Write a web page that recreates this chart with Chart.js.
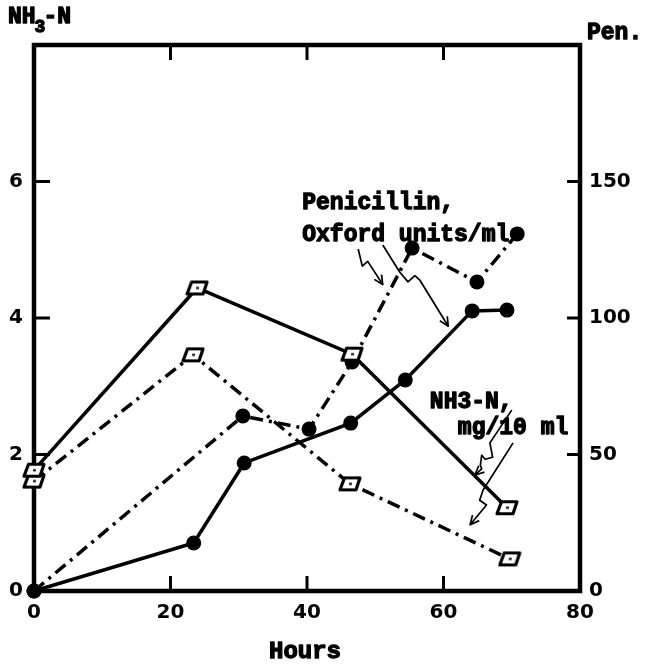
<!DOCTYPE html>
<html>
<head>
<meta charset="utf-8">
<script src="https://cdn.jsdelivr.net/npm/chart.js@4"></script>
<style>
html,body{margin:0;padding:0;background:#fff;}
#wrap{width:645px;height:666px;position:relative;}
</style>
</head>
<body>
<div id="wrap"><canvas id="c" width="645" height="666"></canvas></div>
<script>
// ---- data ----
const hoursNH3Solid = [0, 23.9, 46.6, 69.3];
const nh3Solid      = [1.77, 4.44, 3.47, 1.22];
const hoursNH3Dash  = [0, 23.3, 46.3, 69.7];
const nh3Dash       = [1.61, 3.46, 1.57, 0.47];
const hoursPenSolid = [0, 23.4, 30.8, 46.4, 54.4, 64.2, 69.3];
const penSolid      = [0, 17.6, 46.9, 61.5, 77.3, 102.6, 102.9];
const hoursPenDash  = [0, 30.6, 40.3, 46.6, 55.4, 64.9, 70.8];
const penDash       = [0, 64.1, 59.3, 83.9, 125.6, 113.2, 130.8];
const xTickValues   = [0, 20, 40, 60, 80];
const leftTickValues  = [0, 2, 4, 6];
const rightTickValues = [0, 50, 100, 150];
const leftTitle  = ['NH', '3', '-N'];
const rightTitle = 'Pen.';
const xTitle     = 'Hours';

// annotation texts (hours, NH3-N units)
const notes = [
  {text: 'Penicillin,',     x: 39.3, y: 5.68},
  {text: 'Oxford units/ml', x: 39.3, y: 5.21},
  {text: 'NH3-N,',          x: 58.0, y: 2.76},
  {text: 'mg/10 ml',        x: 62.1, y: 2.39}
];
// hand-drawn squiggly arrows (hours, NH3-N units)
const arrows = [
  [[47.5,5.01],[48.1,4.76],[48.9,4.83],[51.1,4.49]],
  [[51.1,5.07],[53.6,4.67],[54.8,4.53],[55.8,4.62],[56.5,4.56],[60.7,3.88]],
  [[70.0,2.65],[66.8,2.17],[67.2,1.96],[66.1,1.93],[65.6,1.99],[65.4,1.84],[65.6,1.79],[64.6,1.70]],
  [[70.2,2.17],[65.8,1.48],[65.3,1.33],[66.3,1.26],[63.9,0.97]]
];

const xs = (a, b) => a.map((h, i) => ({x: h, y: b[i]}));

function squareMarker() {
  const c = document.createElement('canvas');
  c.width = 24; c.height = 17;
  const g = c.getContext('2d');
  g.beginPath();
  g.moveTo(6.5, 2.5); g.lineTo(22, 2.5); g.lineTo(18, 14.5); g.lineTo(2, 14.5); g.closePath();
  g.fillStyle = '#fff'; g.fill();
  g.lineWidth = 3.2; g.strokeStyle = '#000'; g.lineJoin = 'round'; g.stroke();
  g.fillStyle = '#000'; g.fillRect(11, 7.5, 3, 2);
  return c;
}
const sq = squareMarker();
const DASHDOT = [13, 6, 3, 6];

const framePlugin = {
  id: 'frame',
  beforeDatasetsDraw(chart) {
    const {ctx, chartArea: a, scales} = chart;
    ctx.save();
    ctx.strokeStyle = '#000';
    ctx.lineWidth = 4.5;
    ctx.lineJoin = 'miter';
    ctx.strokeRect(a.left, a.top, a.right - a.left, a.bottom - a.top);
    ctx.lineWidth = 3;
    ctx.beginPath();
    [20, 40, 60].forEach(v => {
      const px = scales.x.getPixelForValue(v);
      ctx.moveTo(px, a.bottom); ctx.lineTo(px, a.bottom - 15);
      ctx.moveTo(px, a.top); ctx.lineTo(px, a.top + 15);
    });
    [2, 4, 6].forEach(v => {
      const py = scales.y.getPixelForValue(v);
      ctx.moveTo(a.left, py); ctx.lineTo(a.left + 16, py);
    });
    [50, 100, 150].forEach(v => {
      const py = scales.y1.getPixelForValue(v);
      ctx.moveTo(a.right, py); ctx.lineTo(a.right - 13, py);
    });
    ctx.stroke();
    ctx.restore();
  },
  afterDatasetsDraw(chart) {
    const {ctx, scales} = chart;
    const X = v => scales.x.getPixelForValue(v);
    const Y = v => scales.y.getPixelForValue(v);
    ctx.save();
    ctx.fillStyle = '#000';
    ctx.strokeStyle = '#000';
    ctx.textBaseline = 'middle';
    const boldText = (t, x, y, size, align) => {
      ctx.font = 'bold ' + size + 'px "Liberation Mono", monospace';
      ctx.textAlign = align || 'left';
      ctx.lineWidth = 1.3;
      ctx.lineJoin = 'round';
      ctx.fillText(t, x, y);
      ctx.strokeText(t, x, y);
    };
    // axis titles
    boldText(leftTitle[0], 8, 17, 23);
    ctx.font = 'bold 23px "Liberation Mono", monospace';
    let w0 = ctx.measureText(leftTitle[0]).width;
    boldText(leftTitle[1], 8 + w0 - 1, 27, 18);
    ctx.font = 'bold 18px "Liberation Mono", monospace';
    let w1 = ctx.measureText(leftTitle[1]).width;
    boldText(leftTitle[2], 8 + w0 + w1 - 3, 17, 23);
    boldText(rightTitle, 587, 33, 23);
    boldText(xTitle, 305, 652, 24, 'center');
    // notes
    notes.forEach(n => boldText(n.text, X(n.x), Y(n.y), 23));
    // arrows
    ctx.lineWidth = 1.7;
    ctx.lineJoin = 'round';
    arrows.forEach(p => {
      ctx.beginPath();
      p.forEach((q, i) => { const px = X(q[0]), py = Y(q[1]); if (i) ctx.lineTo(px, py); else ctx.moveTo(px, py); });
      ctx.stroke();
      const a = p[p.length - 2], b = p[p.length - 1];
      const ax = X(a[0]), ay = Y(a[1]), bx = X(b[0]), by = Y(b[1]);
      const ang = Math.atan2(by - ay, bx - ax);
      ctx.beginPath();
      ctx.moveTo(bx - 10 * Math.cos(ang - 0.45), by - 10 * Math.sin(ang - 0.45));
      ctx.lineTo(bx, by);
      ctx.lineTo(bx - 10 * Math.cos(ang + 0.45), by - 10 * Math.sin(ang + 0.45));
      ctx.stroke();
    });
    ctx.restore();
  }
};

const tickFont = {family: '"DejaVu Sans", sans-serif', size: 20, weight: 'bold'};

new Chart(document.getElementById('c'), {
  type: 'line',
  data: {
    datasets: [
      {data: xs(hoursNH3Solid, nh3Solid), yAxisID: 'y', borderColor: '#000', borderWidth: 3.5,
       pointStyle: sq, pointRadius: 8, clip: false},
      {data: xs(hoursNH3Dash, nh3Dash), yAxisID: 'y', borderColor: '#000', borderWidth: 3.5,
       borderDash: DASHDOT, pointStyle: sq, pointRadius: 8, clip: false},
      {data: xs(hoursPenSolid, penSolid), yAxisID: 'y1', borderColor: '#000', borderWidth: 3.5,
       pointStyle: 'circle', pointRadius: 7.5, pointBackgroundColor: '#000', pointBorderWidth: 0, clip: false},
      {data: xs(hoursPenDash, penDash), yAxisID: 'y1', borderColor: '#000', borderWidth: 3.5,
       borderDash: DASHDOT, pointStyle: 'circle', pointRadius: 7.5, pointBackgroundColor: '#000', pointBorderWidth: 0, clip: false}
    ]
  },
  options: {
    responsive: false,
    animation: false,
    devicePixelRatio: 1,
    layout: {padding: {top: 45, left: 0, right: 0, bottom: 0}},
    plugins: {legend: {display: false}, tooltip: {enabled: false}},
    elements: {line: {tension: 0, borderCapStyle: 'butt'}},
    scales: {
      x: {
        type: 'linear', min: 0, max: 80,
        afterBuildTicks: s => { s.ticks = xTickValues.map(v => ({value: v})); },
        ticks: {color: '#000', font: tickFont, padding: 10, maxRotation: 0},
        grid: {display: false, drawTicks: false}, border: {display: false},
        afterFit: s => { s.height = 75; }
      },
      y: {
        position: 'left', min: 0, max: 8,
        afterBuildTicks: s => { s.ticks = leftTickValues.map(v => ({value: v})); },
        ticks: {color: '#000', font: tickFont, padding: 11},
        grid: {display: false, drawTicks: false}, border: {display: false},
        afterFit: s => { s.width = 34; }
      },
      y1: {
        position: 'right', min: 0, max: 200,
        afterBuildTicks: s => { s.ticks = rightTickValues.map(v => ({value: v})); },
        ticks: {color: '#000', font: tickFont, padding: 9},
        grid: {display: false, drawTicks: false}, border: {display: false},
        afterFit: s => { s.width = 65; }
      }
    }
  },
  plugins: [framePlugin]
});
</script>
</body>
</html>
